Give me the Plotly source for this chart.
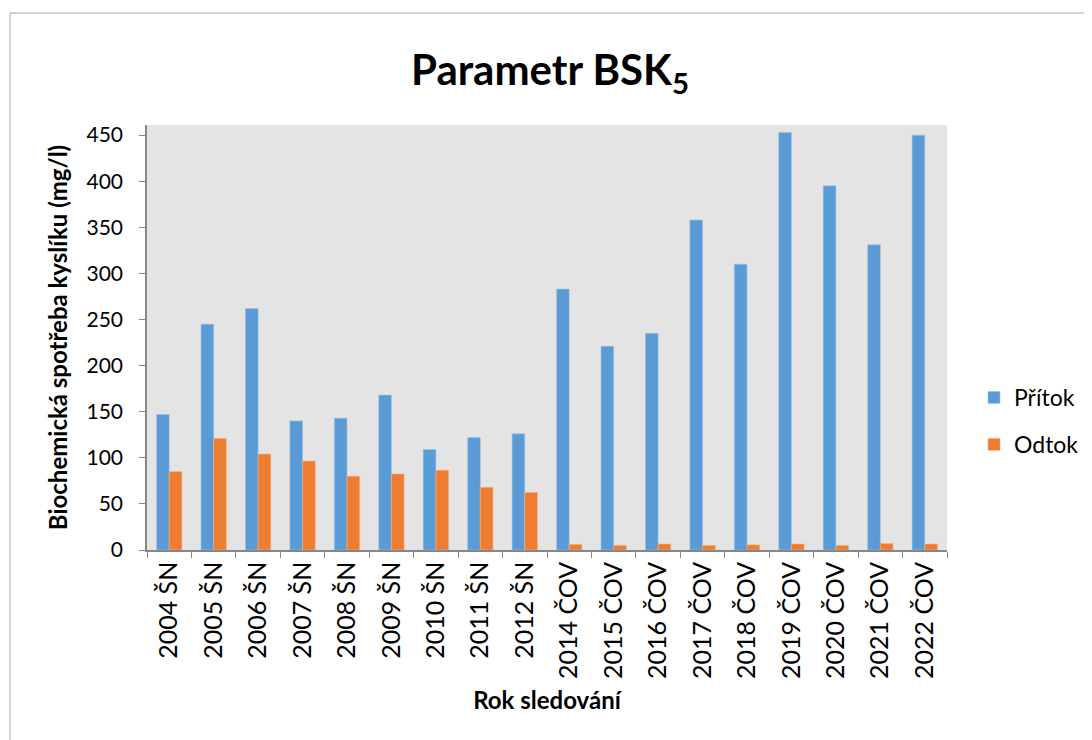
import plotly.graph_objects as go

categories = ["2004 ŠN", "2005 ŠN", "2006 ŠN", "2007 ŠN", "2008 ŠN", "2009 ŠN",
              "2010 ŠN", "2011 ŠN", "2012 ŠN", "2014 ČOV", "2015 ČOV", "2016 ČOV",
              "2017 ČOV", "2018 ČOV", "2019 ČOV", "2020 ČOV", "2021 ČOV", "2022 ČOV"]
pritok = [147, 245, 262, 140, 143, 168, 109, 122, 126, 283, 221, 235, 358, 310, 453, 395, 331, 450]
odtok = [85, 121, 104, 96.5, 80, 82.5, 86.5, 68, 62.5, 6, 5, 6.5, 5, 5.5, 6.5, 5, 7, 6.5]
y_ticks = [0, 50, 100, 150, 200, 250, 300, 350, 400, 450]

FONT = "Lato, 'Open Sans', sans-serif"

fig = go.Figure()
fig.add_trace(go.Bar(x=categories, y=pritok, name="Přítok", legendgroup="a",
                     marker=dict(color="#5B9BD5", line=dict(color="#9DC3E6", width=0.6))))
fig.add_trace(go.Bar(x=categories, y=odtok, name="Odtok", legendgroup="b",
                     marker=dict(color="#ED7D31", line=dict(color="#F4B183", width=0.6))))

# page has an 8px body offset; work in figure coordinates
W, H = 1084, 732
L, T = 139, 117
R = W - 939
B = H - 542
pw, ph = W - L - R, H - T - B

fig.update_layout(
    width=W, height=H,
    margin=dict(l=L, r=R, t=T, b=B, autoexpand=False),
    paper_bgcolor="white",
    plot_bgcolor="#E4E4E4",
    barmode="group",
    bargap=0.43,
    bargroupgap=0,
    font=dict(family=FONT, size=20, color="black"),
    title=dict(text="<b>Parametr BSK<sub>5</sub></b>", x=(550 - 8) / W, xanchor="center",
               y=1 - 62 / H, yanchor="middle", font=dict(size=42, family=FONT)),
    legend=dict(x=(966 - L) / pw, y=1 - (413 - T) / ph, xanchor="left", yanchor="middle",
                bgcolor="rgba(0,0,0,0)", font=dict(size=23), tracegroupgap=14),
    xaxis=dict(
        type="category", tickangle=-90, showline=True, linecolor="#868686", linewidth=1.5,
        ticks="outside", tickson="boundaries", ticklen=6, tickcolor="#868686",
        showgrid=False, tickfont=dict(size=25),
        title=dict(text="<b>Rok sledování</b>", font=dict(size=24), standoff=14),
    ),
    yaxis=dict(
        range=[0, 461], tickvals=y_ticks, showline=True, linecolor="#868686", linewidth=1.5,
        ticks="outside", ticklen=6, tickcolor="#868686", showgrid=False, zeroline=False,
        tickfont=dict(size=21), ticklabelstandoff=12,
        title=dict(text="<b>Biochemická spotřeba kyslíku (mg/l)</b>", font=dict(size=24), standoff=12),
    ),
)

# outer chart border
fig.add_shape(type="rect", xref="paper", yref="paper",
              x0=(2 - L) / pw, x1=(W + 5 - L) / pw,
              y0=1 - (H + 5 - T) / ph, y1=1 - (5 - T) / ph,
              line=dict(color="#A6A6A6", width=1), fillcolor="rgba(0,0,0,0)", layer="below")

fig.write_html("out.html")
